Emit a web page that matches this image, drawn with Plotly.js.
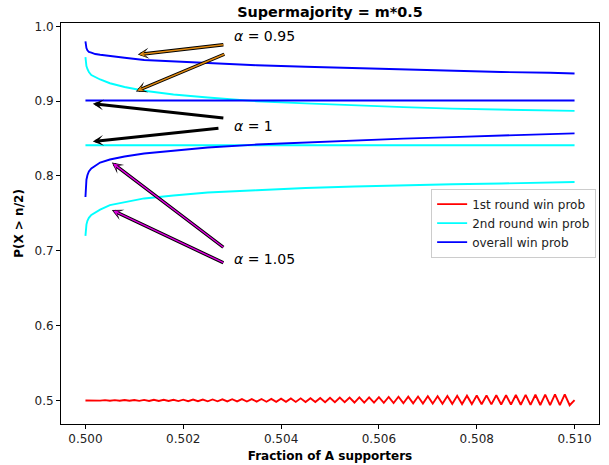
<!DOCTYPE html>
<html>
<head>
<meta charset="utf-8">
<script src="https://cdn.plot.ly/plotly-3.0.1.min.js"></script>
<style>html,body{margin:0;padding:0;background:#fff;}#chart{width:609px;height:465px;}</style>
</head>
<body>
<div id="chart"></div>
<script>
// x grid for the smooth curves (fraction of A supporters)
const xs = [0.5, 0.500005, 0.50001, 0.50002, 0.50004, 0.50007, 0.50012, 0.5002, 0.5003, 0.5005, 0.5008, 0.5012, 0.5018, 0.5025, 0.5035, 0.5045, 0.5055, 0.5065, 0.5075, 0.5085, 0.5095, 0.51];

// alpha = 0.95
const overall095 = [0.980, 0.977, 0.974, 0.971, 0.968, 0.966, 0.965, 0.963, 0.962, 0.960, 0.958, 0.955, 0.953, 0.951, 0.948, 0.946, 0.944, 0.942, 0.941, 0.939, 0.938, 0.937];
const second095  = [0.959, 0.954, 0.951, 0.947, 0.943, 0.939, 0.935, 0.932, 0.929, 0.924, 0.919, 0.914, 0.909, 0.905, 0.900, 0.897, 0.894, 0.892, 0.890, 0.889, 0.888, 0.887];
// alpha = 1
const overall100 = [0.901, 0.901, 0.901, 0.901, 0.901, 0.901, 0.901, 0.901, 0.901, 0.901, 0.901, 0.901, 0.901, 0.901, 0.901, 0.901, 0.901, 0.901, 0.901, 0.901, 0.901, 0.901];
const second100  = [0.841, 0.841, 0.841, 0.841, 0.841, 0.841, 0.841, 0.841, 0.841, 0.841, 0.841, 0.841, 0.841, 0.841, 0.841, 0.841, 0.841, 0.841, 0.841, 0.841, 0.841, 0.841];
// alpha = 1.05
const overall105 = [0.772, 0.782, 0.788, 0.795, 0.801, 0.806, 0.810, 0.814, 0.818, 0.822, 0.826, 0.830, 0.834, 0.838, 0.842, 0.845, 0.848, 0.850, 0.852, 0.854, 0.856, 0.857];
const second105  = [0.720, 0.727, 0.731, 0.735, 0.740, 0.744, 0.748, 0.751, 0.755, 0.761, 0.765, 0.770, 0.774, 0.778, 0.781, 0.784, 0.786, 0.788, 0.789, 0.790, 0.791, 0.792];

// first round (zig-zag around 0.5)
const xFirst = [0.5000,0.5001,0.5002,0.5003,0.5004,0.5005,0.5006,0.5007,0.5008,0.5009,
  0.5010,0.5011,0.5012,0.5013,0.5014,0.5015,0.5016,0.5017,0.5018,0.5019,
  0.5020,0.5021,0.5022,0.5023,0.5024,0.5025,0.5026,0.5027,0.5028,0.5029,
  0.5030,0.5031,0.5032,0.5033,0.5034,0.5035,0.5036,0.5037,0.5038,0.5039,
  0.5040,0.5041,0.5042,0.5043,0.5044,0.5045,0.5046,0.5047,0.5048,0.5049,
  0.5050,0.5051,0.5052,0.5053,0.5054,0.5055,0.5056,0.5057,0.5058,0.5059,
  0.5060,0.5061,0.5062,0.5063,0.5064,0.5065,0.5066,0.5067,0.5068,0.5069,
  0.5070,0.5071,0.5072,0.5073,0.5074,0.5075,0.5076,0.5077,0.5078,0.5079,
  0.5080,0.5081,0.5082,0.5083,0.5084,0.5085,0.5086,0.5087,0.5088,0.5089,
  0.5090,0.5091,0.5092,0.5093,0.5094,0.5095,0.5096,0.5097,0.5098,0.5099,0.5100];
const first = [0.5000,0.4997,0.5003,0.4997,0.5004,0.4996,0.5004,0.4996,0.5005,0.4995,
  0.5006,0.4994,0.5007,0.4993,0.5008,0.4992,0.5008,0.4992,0.5009,0.4991,
  0.5010,0.4990,0.5011,0.4989,0.5012,0.4988,0.5013,0.4988,0.5014,0.4987,
  0.5016,0.4986,0.5017,0.4985,0.5018,0.4984,0.5019,0.4983,0.5021,0.4982,
  0.5023,0.4981,0.5026,0.4980,0.5028,0.4979,0.5030,0.4978,0.5033,0.4977,
  0.5035,0.4976,0.5037,0.4975,0.5038,0.4972,0.5041,0.4971,0.5042,0.4970,
  0.5044,0.4968,0.5046,0.4966,0.5049,0.4963,0.5051,0.4961,0.5052,0.4959,
  0.5055,0.4957,0.5057,0.4956,0.5058,0.4954,0.5061,0.4952,0.5063,0.4951,
  0.5065,0.4949,0.5067,0.4947,0.5069,0.4946,0.5070,0.4944,0.5072,0.4942,
  0.5074,0.4941,0.5076,0.4939,0.5078,0.4938,0.5080,0.4937,0.5081,0.4936,0.5005];

const seriesNames = ['1st round win prob', '2nd round win prob', 'overall win prob'];
const xTicks = [0.500, 0.502, 0.504, 0.506, 0.508, 0.510];
const xTickText = ['0.500', '0.502', '0.504', '0.506', '0.508', '0.510'];
const yTicks = [0.5, 0.6, 0.7, 0.8, 0.9, 1.0];
const yTickText = ['0.5', '0.6', '0.7', '0.8', '0.9', '1.0'];

// annotation labels and arrows: [tailX, tailY, headX, headY]
const alphaLabels = ['<i>α</i> = 0.95', '<i>α</i> = 1', '<i>α</i> = 1.05'];
const labelX = [0.503, 0.503, 0.503];
const labelY = [0.9877, 0.8662, 0.6884];
const arrows095 = [[0.50285, 0.9757, 0.50107, 0.9623], [0.50287, 0.9636, 0.50103, 0.9131]];
const arrows100 = [[0.50285, 0.8774, 0.50015, 0.8966], [0.50275, 0.8640, 0.50015, 0.8461]];
const arrows105 = [[0.50285, 0.7032, 0.50054, 0.8179], [0.50285, 0.6831, 0.50054, 0.7545]];

const RED = '#ff0000', CYAN = '#00ffff', BLUE = '#0000ff';
const LW = 1.9;
const traces = [];
traces.push({x: xFirst, y: first, mode: 'lines', line: {color: RED, width: LW}, name: seriesNames[0], legendgroup: 'r', showlegend: true});
[second095, second100, second105].forEach((s, i) => {
  traces.push({x: xs, y: s, mode: 'lines', line: {color: CYAN, width: LW}, name: seriesNames[1], legendgroup: 'c', showlegend: i === 0});
});
[overall095, overall100, overall105].forEach((s, i) => {
  traces.push({x: xs, y: s, mode: 'lines', line: {color: BLUE, width: LW}, name: seriesNames[2], legendgroup: 'b', showlegend: i === 0});
});

const annotations = [];
function addArrow(a, fill) {
  annotations.push({x: a[2], y: a[3], ax: a[0], ay: a[1], xref: 'x', yref: 'y', axref: 'x', ayref: 'y',
    text: '', showarrow: true, arrowhead: 3, arrowsize: fill ? 0.55 : 0.6, arrowwidth: fill ? 3.4 : 3.0, arrowcolor: '#000000', standoff: 0});
  if (fill) {
    annotations.push({x: a[2], y: a[3], ax: a[0], ay: a[1], xref: 'x', yref: 'y', axref: 'x', ayref: 'y',
      text: '', showarrow: true, arrowhead: 3, arrowsize: 0.85, arrowwidth: 1.4, arrowcolor: fill, standoff: 1.5});
  }
}
arrows095.forEach(a => addArrow(a, '#e08a12'));
arrows100.forEach(a => addArrow(a, null));
arrows105.forEach(a => addArrow(a, '#e000e0'));
alphaLabels.forEach((t, i) => {
  annotations.push({x: labelX[i], y: labelY[i], xref: 'x', yref: 'y', text: t, showarrow: false,
    xanchor: 'left', yanchor: 'middle', font: {family: 'DejaVu Sans', size: 14, color: '#000'}});
});

const layout = {
  width: 609, height: 465,
  margin: {l: 61, r: 10, t: 23, b: 41},
  paper_bgcolor: '#ffffff', plot_bgcolor: '#ffffff',
  font: {family: 'DejaVu Sans', size: 12, color: '#000'},
  title: {text: '<b>Supermajority = m*0.5</b>', x: 0.5, xref: 'paper', xanchor: 'center', y: 1 - 12 / 465, yref: 'container', yanchor: 'middle',
    font: {family: 'DejaVu Sans', size: 14.4, color: '#000'}},
  xaxis: {range: [0.4995, 0.5105], tickvals: xTicks, ticktext: xTickText, ticks: 'outside', ticklen: 4, tickwidth: 1, tickcolor: '#000',
    showgrid: false, zeroline: false, showline: true, mirror: true, linecolor: '#000', linewidth: 1,
    tickfont: {family: 'DejaVu Sans', size: 12, color: '#222'},
    title: {text: '<b>Fraction of A supporters</b>', font: {family: 'DejaVu Sans', size: 12, color: '#000'}, standoff: 6}},
  yaxis: {range: [0.4685, 1.0045], tickvals: yTicks, ticktext: yTickText, ticks: 'outside', ticklen: 4, tickwidth: 1, tickcolor: '#000',
    showgrid: false, zeroline: false, showline: true, mirror: true, linecolor: '#000', linewidth: 1,
    tickfont: {family: 'DejaVu Sans', size: 12, color: '#222'},
    title: {text: '<b>P(X &gt; n/2)</b>', font: {family: 'DejaVu Sans', size: 12, color: '#000'}, standoff: 8}},
  legend: {x: 0.688, y: 0.587, xanchor: 'left', yanchor: 'top', bgcolor: '#ffffff', bordercolor: '#cccccc', borderwidth: 1,
    font: {family: 'DejaVu Sans', size: 12, color: '#222'}, traceorder: 'normal'},
  annotations: annotations,
  showlegend: true
};

Plotly.newPlot('chart', traces, layout, {staticPlot: true, displayModeBar: false});
</script>
</body>
</html>
